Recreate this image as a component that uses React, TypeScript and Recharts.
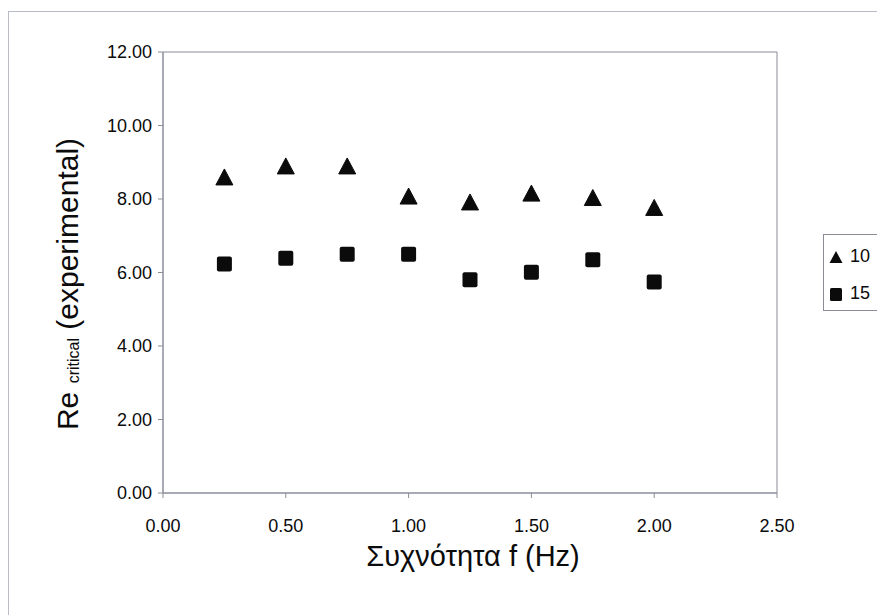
import React from "react";
import {
  ScatterChart,
  Scatter,
  XAxis,
  YAxis,
  ReferenceArea,
} from "recharts";

// frequency (Hz)
const FREQ = [0.25, 0.5, 0.75, 1.0, 1.25, 1.5, 1.75, 2.0];
// Re critical for each series
const RE_10 = [8.6, 8.9, 8.9, 8.08, 7.92, 8.16, 8.04, 7.77];
const RE_15 = [6.23, 6.39, 6.5, 6.5, 5.8, 6.01, 6.35, 5.74];

const X_TICKS = [0, 0.5, 1.0, 1.5, 2.0, 2.5];
const Y_TICKS = [0, 2, 4, 6, 8, 10, 12];

const SERIES = [
  { name: "10", values: RE_10, marker: "triangle" },
  { name: "15", values: RE_15, marker: "square" },
];

const FONT = "'Liberation Sans', Arial, sans-serif";
const INK = "#0b0b0b";
const AXIS = "#8a8d98";

function Triangle(props: any) {
  const { cx, cy } = props;
  if (cx == null || cy == null) return null;
  return (
    <polygon
      points={`${cx},${cy - 8} ${cx + 8.5},${cy + 8} ${cx - 8.5},${cy + 8}`}
      fill={INK}
      stroke={INK}
      strokeWidth={1}
      strokeLinejoin="round"
    />
  );
}

function Square(props: any) {
  const { cx, cy } = props;
  if (cx == null || cy == null) return null;
  return <rect x={cx - 7.5} y={cy - 7.5} width={15} height={15} rx={2} fill={INK} />;
}

function YLabel() {
  return (
    <text
      transform="translate(78, 284) rotate(-90)"
      textAnchor="middle"
      fontFamily={FONT}
      fontSize={30}
      fill={INK}
    >
      <tspan>Re </tspan>
      <tspan fontSize={16} dy={1}>critical</tspan>
      <tspan dy={-1}> (experimental)</tspan>
    </text>
  );
}

function LegendBox() {
  return (
    <div
      style={{
        position: "absolute",
        left: 823,
        top: 234,
        width: 60,
        height: 77,
        border: `1px solid ${AXIS}`,
        borderRight: "none",
        boxSizing: "border-box",
        paddingTop: 3,
        paddingLeft: 3,
        background: "#fff",
        fontFamily: FONT,
        fontSize: 18,
        color: INK,
      }}
    >
      {SERIES.map((s) => (
        <div key={s.name} style={{ display: "flex", alignItems: "center", height: 37 }}>
          <svg width={18} height={16} style={{ marginRight: 5 }}>
            {s.marker === "triangle" ? (
              <polygon points="9,2 15.5,14 2.5,14" fill={INK} />
            ) : (
              <rect x={3} y={2} width={12} height={13} rx={1.5} fill={INK} />
            )}
          </svg>
          <span>{s.name}</span>
        </div>
      ))}
    </div>
  );
}

export default function App() {
  const data = SERIES.map((s) =>
    FREQ.map((f, i) => ({ f, re: s.values[i] }))
  );
  return (
    <div
      style={{
        position: "absolute",
        left: 0,
        top: 0,
        width: 877,
        height: 615,
        overflow: "hidden",
        background: "#fff",
      }}
    >
      <div
        style={{
          position: "absolute",
          left: 8,
          top: 11,
          width: 900,
          height: 700,
          border: "1px solid #b9bcc6",
        }}
      />
      <div style={{ position: "absolute", left: 0, top: 0 }}>
        <ScatterChart
          width={877}
          height={615}
          margin={{ top: 52, right: 100, bottom: 0, left: 0 }}
        >
          <XAxis
            type="number"
            dataKey="f"
            domain={[0, 2.5]}
            ticks={X_TICKS}
            tickFormatter={(v: number) => v.toFixed(2)}
            axisLine={{ stroke: AXIS }}
            tickLine={{ stroke: AXIS }}
            tickSize={5}
            tick={{ fontFamily: FONT, fontSize: 18, fill: INK, dy: 19 }}
            height={122}
            label={{
              value: "Συχνότητα f (Hz)",
              position: "insideTop",
              offset: 52,
              dx: 3,
              style: { fontFamily: FONT, fontSize: 29, fill: INK },
            }}
          />
          <YAxis
            type="number"
            dataKey="re"
            domain={[0, 12]}
            ticks={Y_TICKS}
            tickFormatter={(v: number) => v.toFixed(2)}
            axisLine={{ stroke: AXIS }}
            tickLine={{ stroke: AXIS }}
            tickSize={5}
            tick={{ fontFamily: FONT, fontSize: 18, fill: INK, dx: -4 }}
            width={163}
            label={<YLabel />}
          />
          <ReferenceArea
            x1={0}
            x2={2.5}
            y1={0}
            y2={12}
            fill="none"
            stroke={AXIS}
            strokeWidth={1}
            ifOverflow="visible"
          />
          {SERIES.map((s, i) => (
            <Scatter
              key={s.name}
              name={s.name}
              data={data[i]}
              fill={INK}
              shape={s.marker === "triangle" ? <Triangle /> : <Square />}
              isAnimationActive={false}
            />
          ))}
        </ScatterChart>
      </div>
      <LegendBox />
    </div>
  );
}
